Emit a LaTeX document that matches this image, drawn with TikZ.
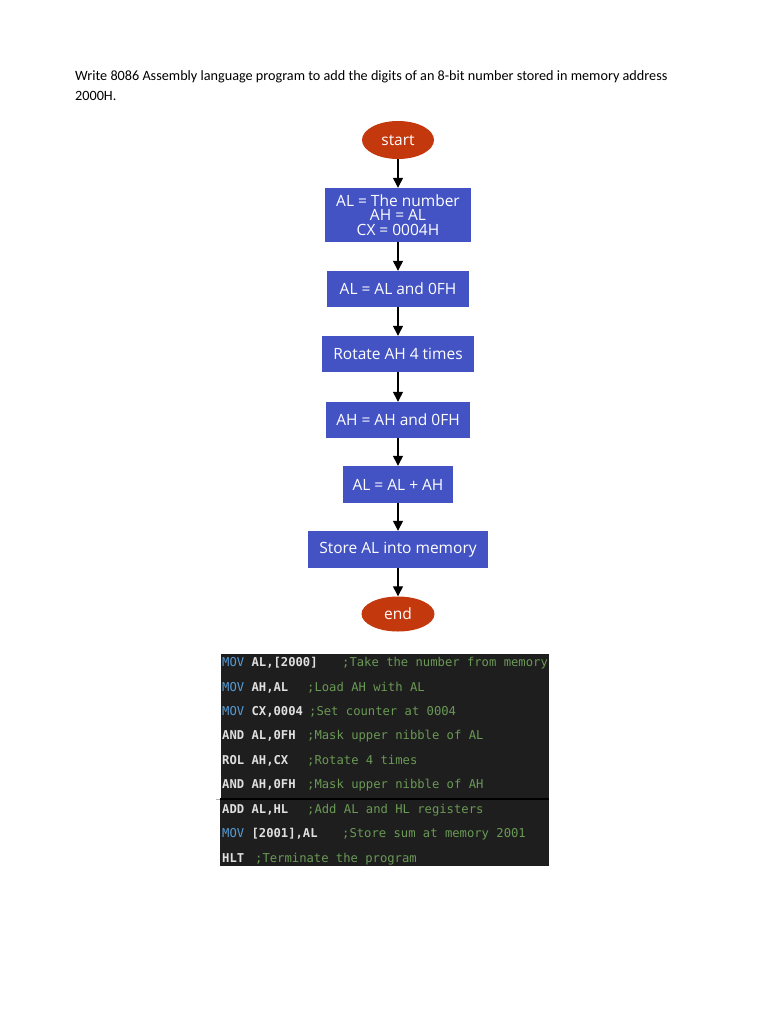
\documentclass[tikz,border=0pt]{standalone}
\usepackage{fontspec}
\setmainfont{Carlito}
\newfontfamily\flowfont{Open Sans}
\setmonofont{DejaVu Sans Mono}
\usetikzlibrary{arrows.meta,shapes.geometric}
\definecolor{boxblue}{HTML}{4353C4}
\definecolor{termred}{HTML}{C4380E}
\definecolor{codebg}{HTML}{1E1E1E}
\definecolor{kwblue}{HTML}{569CD6}
\definecolor{cmtgreen}{HTML}{6A9955}
\definecolor{codewhite}{HTML}{E0E0E0}
\tikzset{
  x=1pt,y=1pt,
  procbox/.style={draw=none,fill=boxblue,text=white,font=\flowfont\fontsize{15.5}{14.5}\selectfont,inner sep=0pt,align=center},
  termnode/.style={ellipse,draw=none,fill=termred,text=white,font=\flowfont\fontsize{15.5}{16}\selectfont,inner sep=0pt},
  flowarrow/.style={draw=black,line width=1.3pt,-{Triangle[width=10pt,length=10pt]}},
  codeline/.style={anchor=mid west,inner sep=0pt,font=\ttfamily\fontsize{12.2}{14}\selectfont},
  codecmt/.style={anchor=mid west,inner sep=0pt,font=\ttfamily\fontsize{12.2}{14}\selectfont,text=cmtgreen},
  titletext/.style={anchor=base west,inner sep=0pt,font=\fontsize{14.2}{20}\selectfont},
}
\begin{document}
\begin{tikzpicture}
\path[use as bounding box,fill=white] (0,0) rectangle (768,-1024);
% title
\node[titletext] (title1) at (75,-81)
  {Write 8086 Assembly language program to add the digits of an 8-bit number stored in memory address};
\node[titletext] (title2) at (75,-101) {2000H.};
% flowchart
\node[termnode,minimum width=72pt,minimum height=38pt] (start) at (398,-140) {start};
\node[procbox,minimum width=146pt,minimum height=54pt] (b1) at (398,-215) {AL = The number\\AH = AL\\CX = 0004H};
\node[procbox,minimum width=142pt,minimum height=36pt] (b2) at (398,-289) {AL = AL and 0FH};
\node[procbox,minimum width=152pt,minimum height=36pt] (b3) at (398,-354) {Rotate AH 4 times};
\node[procbox,minimum width=144pt,minimum height=36pt] (b4) at (398,-420) {AH = AH and 0FH};
\node[procbox,minimum width=110pt,minimum height=37pt] (b5) at (398,-484.5) {AL = AL + AH};
\node[procbox,minimum width=180pt,minimum height=37pt] (b6) at (398,-549.5) {Store AL into memory};
\node[termnode,minimum width=73pt,minimum height=35pt] (end) at (398,-614) {end};
\draw[flowarrow] (start) -- (b1);
\draw[flowarrow] (b1) -- (b2);
\draw[flowarrow] (b2) -- (b3);
\draw[flowarrow] (b3) -- (b4);
\draw[flowarrow] (b4) -- (b5);
\draw[flowarrow] (b5) -- (b6);
\draw[flowarrow] (b6) -- (end);
% code block
\fill[codebg] (221,-654) rectangle (549,-798);
\fill[codebg] (220,-800) rectangle (549,-866);
\draw[black,line width=1.5pt] (220,-799) -- (549,-799);
\draw[gray!60,line width=0.8pt] (216,-799) -- (220,-799);
\node[codeline] (c1) at (222,-664) {\textcolor{kwblue}{MOV} \textcolor{codewhite}{\bfseries AL,[2000]}};
\node[codecmt] (k1) at (342,-664) {;Take the number from memory};
\node[codeline] (c2) at (222,-689) {\textcolor{kwblue}{MOV} \textcolor{codewhite}{\bfseries AH,AL}};
\node[codecmt] (k2) at (307,-689) {;Load AH with AL};
\node[codeline] (c3) at (222,-713) {\textcolor{kwblue}{MOV} \textcolor{codewhite}{\bfseries CX,0004}};
\node[codecmt] (k3) at (309,-713) {;Set counter at 0004};
\node[codeline] (c4) at (222,-737) {\textcolor{codewhite}{\bfseries AND AL,0FH}};
\node[codecmt] (k4) at (307,-737) {;Mask upper nibble of AL};
\node[codeline] (c5) at (222,-762) {\textcolor{codewhite}{\bfseries ROL AH,CX}};
\node[codecmt] (k5) at (307,-762) {;Rotate 4 times};
\node[codeline] (c6) at (222,-786) {\textcolor{codewhite}{\bfseries AND AH,0FH}};
\node[codecmt] (k6) at (307,-786) {;Mask upper nibble of AH};
\node[codeline] (c7) at (222,-811) {\textcolor{codewhite}{\bfseries ADD AL,HL}};
\node[codecmt] (k7) at (307,-811) {;Add AL and HL registers};
\node[codeline] (c8) at (222,-835) {\textcolor{kwblue}{MOV} \textcolor{codewhite}{\bfseries [2001],AL}};
\node[codecmt] (k8) at (342,-835) {;Store sum at memory 2001};
\node[codeline] (c9) at (222,-860) {\textcolor{codewhite}{\bfseries HLT}};
\node[codecmt] (k9) at (255,-860) {;Terminate the program};
\end{tikzpicture}
\end{document}
